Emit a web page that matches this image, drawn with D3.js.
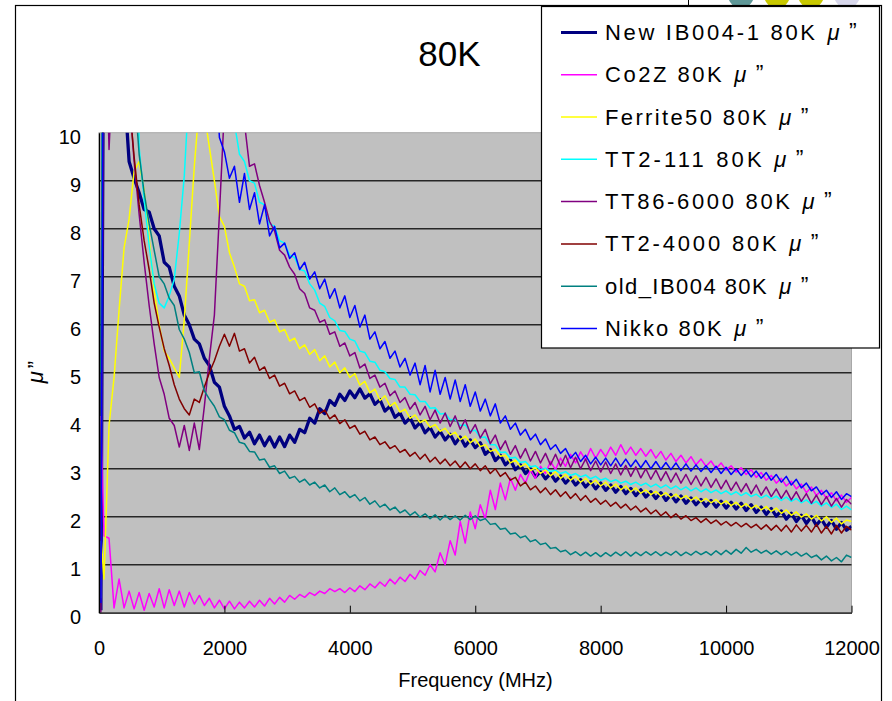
<!DOCTYPE html>
<html><head><meta charset="utf-8">
<script src="https://cdn.jsdelivr.net/npm/d3@7"></script>
<style>body{margin:0;background:#fff;}svg{display:block;}</style>
</head><body>
<svg id="chart" width="892" height="701"></svg>
<script>
// ---------------- data ----------------
const chartTitle = "80K";
const xTitle = "Frequency (MHz)";
const unitSuffix = ["\u03bc", "\u201d"];
const xTicks = [0, 2000, 4000, 6000, 8000, 10000, 12000];
const yTicks = [0, 1, 2, 3, 4, 5, 6, 7, 8, 9, 10];
const gridValues = [1, 2, 3, 4, 5, 6, 7, 8, 9];

const freq = [30,
 80,160,240,320,400,480,560,640,720,800,
 880,960,1040,1120,1200,1280,1360,1440,1520,1600,
 1680,1760,1840,1920,2000,2080,2160,2240,2320,2400,
 2480,2560,2640,2720,2800,2880,2960,3040,3120,3200,
 3280,3360,3440,3520,3600,3680,3760,3840,3920,4000,
 4080,4160,4240,4320,4400,4480,4560,4640,4720,4800,
 4880,4960,5040,5120,5200,5280,5360,5440,5520,5600,
 5680,5760,5840,5920,6000,6080,6160,6240,6320,6400,
 6480,6560,6640,6720,6800,6880,6960,7040,7120,7200,
 7280,7360,7440,7520,7600,7680,7760,7840,7920,8000,
 8080,8160,8240,8320,8400,8480,8560,8640,8720,8800,
 8880,8960,9040,9120,9200,9280,9360,9440,9520,9600,
 9680,9760,9840,9920,10000,10080,10160,10240,10320,10400,
 10480,10560,10640,10720,10800,10880,10960,11040,11120,11200,
 11280,11360,11440,11520,11600,11680,11760,11840,11920,12000];

const seriesNames = ["New IB004-1 80K", "Co2Z 80K", "Ferrite50 80K", "TT2-111 80K",
  "TT86-6000 80K", "TT2-4000 80K", "old_IB004 80K", "Nikko 80K"];

const newIB004 = [0.05,
 15,20,20,18,11,9.4,9.05,8.75,8.4,8.35,
 8.0,7.85,7.3,7.2,6.8,6.6,6.2,6.0,5.7,5.6,
 5.3,5.15,4.8,4.7,4.3,4.1,3.82,3.88,3.64,3.76,
 3.52,3.7,3.48,3.66,3.45,3.66,3.46,3.7,3.55,3.82,
 3.75,4.05,3.95,4.25,4.15,4.42,4.32,4.55,4.42,4.62,
 4.48,4.66,4.47,4.56,4.34,4.44,4.2,4.3,4.07,4.16,
 3.95,4.06,3.85,3.96,3.75,3.86,3.66,3.78,3.6,3.72,
 3.52,3.66,3.47,3.6,3.44,3.54,3.3,3.4,3.17,3.28,
 3.08,3.18,2.98,3.08,2.9,3.0,2.83,2.94,2.79,2.9,
 2.74,2.85,2.7,2.81,2.66,2.77,2.62,2.73,2.58,2.7,
 2.55,2.66,2.51,2.63,2.48,2.59,2.44,2.56,2.41,2.52,
 2.38,2.5,2.34,2.46,2.31,2.43,2.28,2.39,2.25,2.36,
 2.22,2.34,2.2,2.32,2.18,2.3,2.16,2.28,2.13,2.25,
 2.09,2.2,2.05,2.17,2.01,2.12,1.95,2.07,1.9,2.03,
 1.86,2.0,1.82,1.95,1.78,1.92,1.74,1.88,1.72,1.8];

const co2z = [4.1,
 1.6,1.55,0.1,0.7,0.1,0.45,0.08,0.42,0.05,0.4,
 0.12,0.5,0.1,0.48,0.15,0.45,0.12,0.42,0.18,0.36,
 0.15,0.3,0.1,0.26,0.08,0.24,0.08,0.22,0.1,0.24,
 0.12,0.26,0.14,0.3,0.18,0.32,0.22,0.36,0.28,0.38,
 0.32,0.42,0.36,0.45,0.4,0.5,0.44,0.5,0.42,0.52,
 0.44,0.56,0.48,0.6,0.52,0.64,0.55,0.7,0.6,0.74,
 0.65,0.8,0.7,0.88,0.78,1.0,0.85,1.25,1.0,1.5,
 1.2,1.9,1.45,2.1,1.75,2.25,1.95,2.55,2.15,2.7,
 2.35,2.8,2.55,2.88,2.7,2.98,2.8,3.05,2.9,3.15,
 2.98,3.22,3.05,3.3,3.12,3.35,3.18,3.42,3.22,3.4,
 3.25,3.45,3.28,3.5,3.3,3.45,3.28,3.42,3.26,3.4,
 3.22,3.36,3.18,3.32,3.15,3.28,3.12,3.25,3.08,3.2,
 3.05,3.16,3.0,3.12,2.97,3.06,2.93,3.02,2.88,2.98,
 2.82,2.92,2.76,2.86,2.7,2.8,2.64,2.74,2.58,2.68,
 2.5,2.62,2.44,2.55,2.38,2.5,2.33,2.45,2.3,2.4];

const ferrite50 = [1.6,
 0.7,3.9,4.9,6.3,7.6,8.2,9.2,9.4,8.8,7.8,
 6.7,6.0,5.45,5.3,5.1,4.9,6.1,7.7,9.3,10.6,
 10.4,9.7,9.0,8.25,8.05,7.5,7.2,6.85,6.8,6.5,
 6.52,6.25,6.3,6.05,6.1,5.85,5.9,5.66,5.72,5.5,
 5.58,5.38,5.48,5.25,5.35,5.12,5.22,5.0,5.1,4.9,
 4.98,4.74,4.82,4.58,4.66,4.42,4.52,4.3,4.38,4.18,
 4.24,4.05,4.12,3.96,4.02,3.86,3.92,3.78,3.84,3.7,
 3.76,3.6,3.68,3.54,3.62,3.46,3.5,3.36,3.4,3.26,
 3.28,3.12,3.18,3.04,3.1,2.96,3.02,2.9,2.98,2.85,
 2.94,2.8,2.88,2.76,2.84,2.72,2.8,2.68,2.76,2.64,
 2.72,2.6,2.68,2.56,2.64,2.52,2.6,2.49,2.56,2.46,
 2.53,2.43,2.5,2.4,2.47,2.37,2.44,2.34,2.41,2.31,
 2.38,2.29,2.36,2.26,2.33,2.23,2.3,2.2,2.27,2.17,
 2.24,2.14,2.21,2.11,2.18,2.07,2.14,2.03,2.1,1.99,
 2.06,1.95,2.03,1.91,2.0,1.88,1.97,1.85,1.93,1.9];

const tt2_111 = [0.3,
 20,20,20,20,20,20,20,9.7,8.6,7.65,
 6.85,6.45,6.35,6.6,6.95,7.9,9.1,11,20,20,
 20,20,20,20,20,20,10.2,9.55,9.4,9.0,
 8.95,8.55,8.5,8.1,8.05,7.75,7.7,7.45,7.4,7.15,
 7.12,6.85,6.72,6.45,6.38,6.15,6.08,5.88,5.86,5.7,
 5.66,5.45,5.42,5.24,5.22,5.05,5.02,4.88,4.86,4.7,
 4.7,4.55,4.54,4.4,4.4,4.26,4.27,4.14,4.15,4.02,
 4.03,3.9,3.91,3.78,3.8,3.65,3.66,3.5,3.5,3.34,
 3.35,3.22,3.24,3.13,3.15,3.04,3.06,2.98,3.01,2.94,
 2.97,2.9,2.94,2.86,2.9,2.83,2.87,2.79,2.84,2.76,
 2.8,2.73,2.77,2.7,2.74,2.67,2.72,2.65,2.7,2.62,
 2.68,2.6,2.66,2.58,2.64,2.56,2.62,2.54,2.6,2.52,
 2.58,2.5,2.56,2.48,2.54,2.46,2.52,2.44,2.5,2.42,
 2.47,2.39,2.45,2.37,2.43,2.34,2.41,2.32,2.38,2.29,
 2.35,2.26,2.32,2.22,2.29,2.19,2.26,2.15,2.22,2.14];

const tt86_6000 = [0.0,
 14,9.65,12,20,20,10.8,9.4,8.3,7.3,6.4,
 5.6,4.9,4.55,4.05,3.9,3.45,3.9,3.38,3.95,3.4,
 4.3,5.3,6.2,8.3,10.5,20,20,20,10.2,9.3,
 9.35,8.9,8.55,8.15,7.95,7.55,7.45,7.2,7.05,6.75,
 6.65,6.35,6.3,6.05,6.1,5.8,5.85,5.55,5.62,5.35,
 5.42,5.1,5.18,4.88,4.95,4.7,4.78,4.52,4.62,4.38,
 4.48,4.24,4.38,4.12,4.3,4.02,4.22,3.95,4.16,3.88,
 4.1,3.82,4.02,3.74,3.92,3.64,3.82,3.52,3.7,3.4,
 3.58,3.3,3.48,3.22,3.42,3.16,3.36,3.12,3.32,3.08,
 3.3,3.05,3.28,3.02,3.24,3.0,3.2,2.96,3.16,2.93,
 3.14,2.9,3.1,2.87,3.07,2.84,3.04,2.81,3.0,2.78,
 2.97,2.75,2.94,2.72,2.91,2.7,2.88,2.67,2.85,2.64,
 2.82,2.61,2.79,2.58,2.76,2.55,2.72,2.52,2.69,2.48,
 2.66,2.45,2.62,2.42,2.58,2.38,2.55,2.35,2.52,2.32,
 2.48,2.28,2.45,2.25,2.42,2.22,2.38,2.2,2.36,2.26];

const tt2_4000 = [1.5,
 15,20,20,20,20,10.7,9.5,8.5,7.75,7.15,
 6.45,5.95,5.5,5.15,4.75,4.45,4.25,4.12,4.45,4.38,
 4.7,5.0,5.25,5.55,5.8,5.55,5.82,5.45,5.5,5.2,
 5.32,5.05,5.12,4.88,4.95,4.72,4.78,4.56,4.62,4.42,
 4.48,4.28,4.35,4.15,4.22,4.04,4.12,3.94,4.02,3.84,
 3.9,3.72,3.78,3.6,3.66,3.5,3.56,3.42,3.48,3.34,
 3.4,3.26,3.34,3.2,3.3,3.14,3.24,3.1,3.2,3.06,
 3.16,3.02,3.14,3.0,3.1,2.96,3.06,2.9,3.0,2.84,
 2.92,2.76,2.82,2.64,2.72,2.56,2.64,2.5,2.6,2.46,
 2.56,2.42,2.52,2.38,2.48,2.34,2.44,2.3,2.38,2.26,
 2.34,2.22,2.3,2.18,2.26,2.14,2.22,2.1,2.18,2.06,
 2.14,2.02,2.1,1.98,2.06,1.95,2.02,1.92,1.98,1.88,
 1.96,1.86,1.93,1.83,1.9,1.81,1.88,1.79,1.86,1.77,
 1.84,1.74,1.83,1.72,1.82,1.7,1.82,1.68,1.83,1.7,
 1.82,1.68,1.84,1.66,1.8,1.64,1.82,1.66,1.8,1.72];

const oldIB004 = [5.0,
 15,20,20,20,20,20,11,9.55,8.75,8.1,
 7.55,7.0,6.85,6.55,6.4,5.9,5.7,5.42,5.0,5.02,
 4.62,4.45,4.3,4.08,4.02,3.8,3.75,3.55,3.52,3.36,
 3.35,3.18,3.2,3.03,3.06,2.9,2.95,2.8,2.84,2.72,
 2.78,2.66,2.72,2.6,2.66,2.52,2.6,2.46,2.52,2.4,
 2.46,2.33,2.4,2.26,2.33,2.2,2.26,2.14,2.2,2.08,
 2.14,2.03,2.1,1.99,2.06,1.96,2.04,1.93,2.03,1.94,
 2.02,1.93,2.03,1.94,2.02,1.92,1.96,1.84,1.86,1.74,
 1.76,1.64,1.66,1.56,1.6,1.48,1.52,1.42,1.45,1.34,
 1.36,1.27,1.3,1.21,1.27,1.19,1.26,1.18,1.25,1.17,
 1.25,1.18,1.26,1.19,1.27,1.18,1.26,1.19,1.27,1.2,
 1.27,1.19,1.26,1.2,1.28,1.19,1.26,1.2,1.28,1.21,
 1.27,1.2,1.29,1.21,1.3,1.22,1.32,1.24,1.36,1.26,
 1.32,1.24,1.3,1.22,1.29,1.21,1.28,1.2,1.26,1.18,
 1.24,1.15,1.2,1.1,1.18,1.08,1.15,1.06,1.2,1.15];

const nikko = [0.2,
 16,20,20,20,20,20,20,20,20,20,
 20,20,20,20,20,20,20,20,20,20,
 20,20,12,9.9,9.6,9.05,9.3,8.55,9.15,8.4,
 8.75,8.1,8.5,7.85,8.05,7.6,7.7,7.38,7.5,7.15,
 7.3,6.95,7.1,6.75,6.95,6.55,6.75,6.35,6.6,6.15,
 6.4,5.95,6.2,5.7,5.85,5.5,5.65,5.3,5.45,5.12,
 5.3,4.95,5.2,4.75,5.15,4.6,5.05,4.55,4.9,4.45,
 4.85,4.4,4.75,4.3,4.6,4.2,4.45,4.1,4.35,3.95,
 4.1,3.82,3.95,3.7,3.82,3.6,3.72,3.5,3.62,3.4,
 3.5,3.32,3.42,3.22,3.34,3.15,3.28,3.1,3.24,3.08,
 3.22,3.06,3.22,3.05,3.2,3.04,3.18,3.02,3.17,3.0,
 3.15,2.99,3.13,2.98,3.12,2.96,3.1,2.95,3.08,2.94,
 3.06,2.92,3.05,2.9,3.03,2.88,3.0,2.86,2.98,2.83,
 2.95,2.8,2.92,2.76,2.88,2.72,2.84,2.66,2.78,2.6,
 2.7,2.54,2.62,2.46,2.55,2.4,2.52,2.36,2.48,2.42];

const seriesValues = [newIB004, co2z, ferrite50, tt2_111, tt86_6000, tt2_4000, oldIB004, nikko];

// ---------------- styles / layout ----------------
const seriesColors = ["#000080", "#ff00ff", "#ffff00", "#00ffff", "#800080", "#800000", "#008080", "#0000ff"];
const seriesWidths = [3.3, 1.5, 1.5, 1.5, 1.5, 1.5, 1.5, 1.5];
const legendTextWidths = [210, 116.7, 161.7, 156.7, 185, 171.7, 161.7, 116.7];
const FONT = "'Liberation Sans', Arial, sans-serif";

const plot = {left: 99, right: 851.5, top: 132.7, bottom: 612.7};
const svg = d3.select("#chart");

// decorative shapes peeking above the chart frame
const deco = [{cx: 741, c: "#5f9898"}, {cx: 777, c: "#c8c800"}, {cx: 811, c: "#c8c800"}, {cx: 847, c: "#d8d8ec"}];
svg.selectAll("circle.deco").data(deco).enter().append("circle")
  .attr("cx", d => d.cx).attr("cy", -5).attr("r", 13).attr("fill", d => d.c);
svg.append("line").attr("x1", 688.5).attr("x2", 688.5).attr("y1", 0).attr("y2", 6).attr("stroke", "#000");

// chart frame
svg.append("rect").attr("x", 15.5).attr("y", 5.5).attr("width", 866).attr("height", 720)
  .attr("fill", "#fff").attr("stroke", "#000").attr("stroke-width", 1.2);

const x = d3.scaleLinear().domain([0, 12000]).range([plot.left, plot.right]);
const y = d3.scaleLinear().domain([0, 10]).range([plot.bottom, plot.top]);

// plot area
svg.append("rect").attr("x", plot.left).attr("y", plot.top)
  .attr("width", plot.right - plot.left).attr("height", plot.bottom - plot.top)
  .attr("fill", "#c0c0c0").attr("stroke", "#a8a8a8").attr("stroke-width", 1);

svg.append("g").selectAll("line").data(gridValues).enter().append("line")
  .attr("x1", plot.left).attr("x2", plot.right)
  .attr("y1", d => y(d)).attr("y2", d => y(d))
  .attr("stroke", "#262626").attr("stroke-width", 1.4);

svg.append("clipPath").attr("id", "clip").append("rect")
  .attr("x", plot.left).attr("y", plot.top)
  .attr("width", plot.right - plot.left).attr("height", plot.bottom - plot.top);

const line = d3.line().x((d, i) => x(freq[i])).y(d => y(d));
const lines = svg.append("g").attr("clip-path", "url(#clip)");
seriesValues.forEach((vals, k) => {
  lines.append("path").datum(vals).attr("d", line)
    .attr("fill", "none").attr("stroke", seriesColors[k])
    .attr("stroke-width", seriesWidths[k]).attr("stroke-linejoin", "round");
});

// axes
const xAxis = d3.axisBottom(x).tickValues(xTicks).tickSizeInner(-7).tickSizeOuter(0)
  .tickPadding(28).tickFormat(d3.format("d"));
const gx = svg.append("g").attr("transform", `translate(0,${plot.bottom})`).call(xAxis);
gx.select(".domain").attr("stroke", "#000").attr("stroke-width", 1.3);
gx.selectAll(".tick line").attr("stroke", "#000");
gx.selectAll("text").attr("font-family", FONT).attr("font-size", 20).attr("fill", "#000");

const yAxis = d3.axisLeft(y).tickValues(yTicks).tickSize(0).tickPadding(18);
const gy = svg.append("g").attr("transform", `translate(${plot.left},0)`).call(yAxis);
gy.select(".domain").attr("stroke", "#000").attr("stroke-width", 1.3);
gy.selectAll("text").attr("font-family", FONT).attr("font-size", 20).attr("fill", "#000").attr("dy", "0.52em");

// titles
svg.append("text").attr("x", 449.5).attr("y", 65.7).attr("text-anchor", "middle")
  .attr("font-family", FONT).attr("font-size", 35).text(chartTitle);
svg.append("text").attr("x", 475.5).attr("y", 686.7).attr("text-anchor", "middle")
  .attr("font-family", FONT).attr("font-size", 20).text(xTitle);
const yt = svg.append("text").attr("transform", "translate(43,372) rotate(-90)")
  .attr("text-anchor", "middle").attr("font-family", FONT).attr("font-size", 22);
yt.append("tspan").attr("font-style", "italic").text(unitSuffix[0]);
yt.append("tspan").attr("dx", 3).text(unitSuffix[1]);

// legend
const lg = svg.append("g");
lg.append("rect").attr("x", 541.5).attr("y", 6.5).attr("width", 338).attr("height", 341.5)
  .attr("fill", "#fff").attr("stroke", "#000").attr("stroke-width", 1.2);
seriesNames.forEach((name, k) => {
  const cy = 32.4 + k * 42.3;
  lg.append("line").attr("x1", 561).attr("x2", 597).attr("y1", cy).attr("y2", cy)
    .attr("stroke", seriesColors[k]).attr("stroke-width", k === 0 ? 3 : 1.5);
  const w = legendTextWidths[k];
  lg.append("text").attr("x", 605).attr("y", cy + 7.5)
    .attr("font-family", FONT).attr("font-size", 22)
    .attr("textLength", w).attr("lengthAdjust", "spacing").text(name);
  lg.append("text").attr("x", 605 + w + 12.5).attr("y", cy + 7.5)
    .attr("font-family", FONT).attr("font-size", 22).attr("font-style", "italic").text(unitSuffix[0]);
  lg.append("text").attr("x", 605 + w + 34).attr("y", cy + 7.5)
    .attr("font-family", FONT).attr("font-size", 23).text(unitSuffix[1]);
});
</script>
</body></html>
